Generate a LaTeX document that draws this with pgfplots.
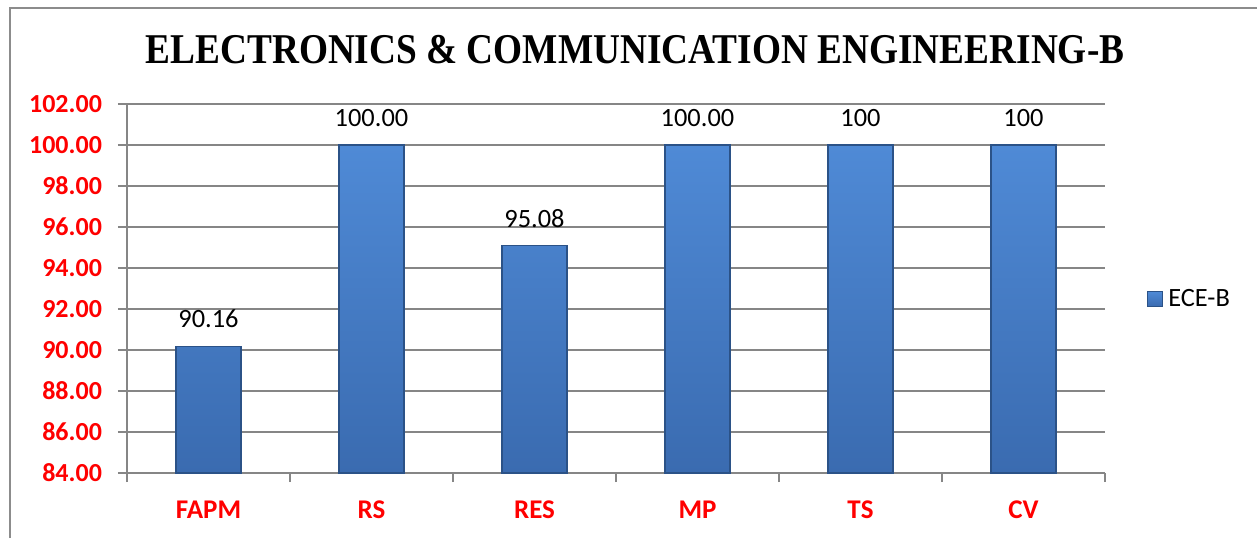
\documentclass[border=0pt]{standalone}
\usepackage{pgfplots}
\pgfplotsset{compat=1.18}
\usepackage{fontspec}
\setmainfont{Carlito}
\newfontfamily\titlefont{Liberation Serif}
\definecolor{gridgray}{HTML}{868686}
\definecolor{framegray}{HTML}{8C8C8C}
\definecolor{bartop}{HTML}{4F8AD6}
\definecolor{barbot}{HTML}{3A6BB0}
\definecolor{baredge}{HTML}{2B5287}
\definecolor{tickred}{HTML}{FF0000}
\begin{document}
\begin{tikzpicture}
\begin{axis}[
  scale only axis,
  width=489pt, height=184.5pt,
  xmin=-0.5, xmax=5.5,
  ymin=84, ymax=102,
  axis x line*=bottom,
  axis y line*=left,
  axis line style={draw=gridgray, line width=0.65pt},
  ybar, bar width=32.5pt, bar shift=0pt,
  xtick={0,1,2,3,4,5},
  xticklabels={FAPM,RS,RES,MP,TS,CV},
  major x tick style={draw=none},
  minor xtick={-0.5,0.5,1.5,2.5,3.5,4.5,5.5},
  minor x tick style={draw=gridgray, line width=0.65pt},
  ytick={84,86,...,102},
  yticklabels={84.00,86.00,88.00,90.00,92.00,94.00,96.00,98.00,100.00,102.00},
  ymajorgrids,
  grid style={draw=gridgray, line width=0.65pt},
  major y tick style={draw=gridgray, line width=0.65pt},
  tick align=outside,
  major tick length=4.5pt,
  minor tick length=4.5pt,
  xticklabel style={font=\fontsize{13.5}{15}\selectfont\bfseries, text=tickred, yshift=-6pt},
  yticklabel style={font=\fontsize{13}{15}\selectfont\bfseries, text=tickred, xshift=-4.5pt},
  point meta=explicit symbolic,
  nodes near coords,
  nodes near coords style={font=\fontsize{13.2}{15}\selectfont, text=black, anchor=south, inner sep=0pt, yshift=9pt},
  legend style={at={(1.043,0.4715)}, anchor=west, draw=none, fill=none, inner sep=0pt,
    font=\fontsize{13.2}{15}\selectfont},
  legend image code/.code={\draw[baredge, line width=0.4pt, top color=bartop, bottom color=barbot] (0pt,-3.75pt) rectangle (7.5pt,3.75pt);},
  legend cell align=left,
  legend style={nodes={inner sep=2.5pt}},
]
\addplot[draw=baredge, line width=0.6pt, top color=bartop, bottom color=barbot] coordinates {
  (0,90.16) [90.16]
  (1,100) [100.00]
  (2,95.08) [95.08]
  (3,100) [100.00]
  (4,100) [100]
  (5,100) [100]
};
\addlegendentry{ECE-B}
\end{axis}
\node[anchor=base, xscale=0.88, font=\titlefont\fontsize{21.2}{24}\selectfont\bfseries] at (254pt,205pt) {ELECTRONICS \& COMMUNICATION ENGINEERING-B};
\draw[framegray, line width=0.75pt] (-58.5pt,-32.5pt) -- (-58.5pt,232.5pt) -- (565pt,232.5pt);
\pgfresetboundingbox
\useasboundingbox (-63.5pt,-32.5pt) rectangle (565pt,236.5pt);
\end{tikzpicture}
\end{document}
